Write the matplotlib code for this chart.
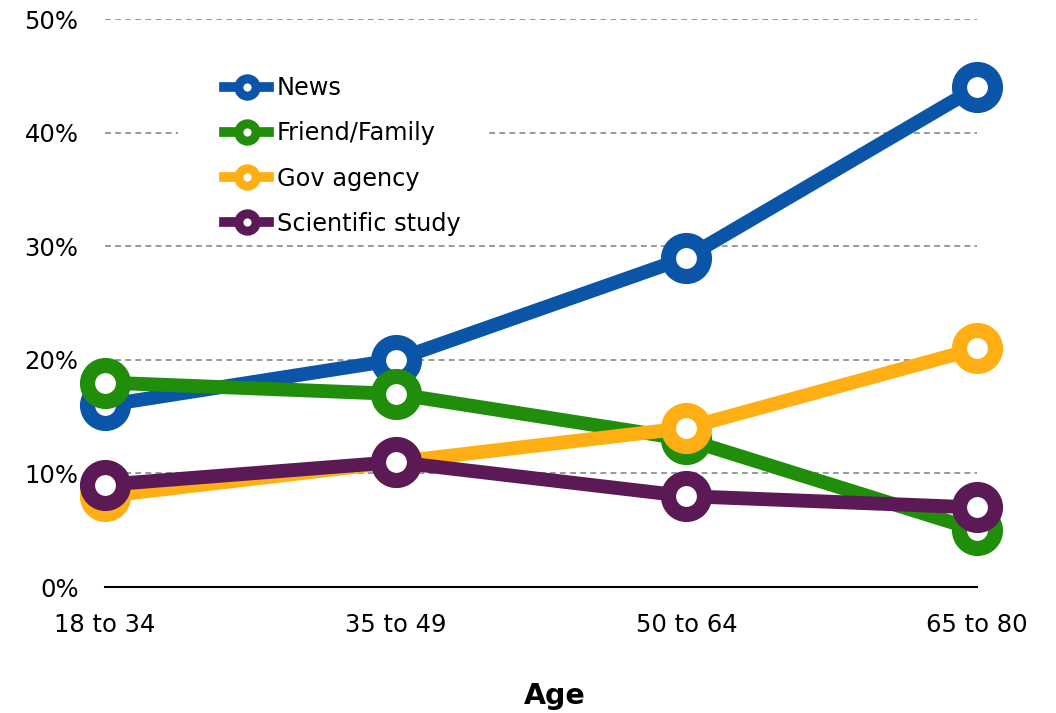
import matplotlib
matplotlib.use("Agg")
import matplotlib.pyplot as plt
from matplotlib.lines import Line2D
from matplotlib.patches import Rectangle
from matplotlib.ticker import PercentFormatter

# ---------- data ----------
ages = ["18 to 34", "35 to 49", "50 to 64", "65 to 80"]
news = [16, 20, 29, 44]
friend_family = [18, 17, 13, 5]
gov_agency = [8, 11, 14, 21]
scientific_study = [9, 11, 8, 7]

series_names = ["News", "Friend/Family", "Gov agency", "Scientific study"]
series_values = [news, friend_family, gov_agency, scientific_study]
series_colors = ["#0B55A8", "#208E0A", "#FFAF14", "#5B1A56"]

plt.rcParams['font.family'] = ['DejaVu Sans']

fig = plt.figure(figsize=(10.56, 7.13), dpi=100)
ax = fig.add_axes([0.0994, 0.1767, 0.8258, 0.7966])

x = list(range(len(ages)))
for name, vals, col in zip(series_names, series_values, series_colors):
    ax.plot(x, vals, color=col, lw=10, marker='o', markersize=25.9,
            markerfacecolor='white', markeredgecolor=col, markeredgewidth=10.9,
            clip_on=False, solid_capstyle='butt', zorder=3)

ax.set_xlim(0, 3)
ax.set_ylim(0, 50)
ax.set_xticks(x)
ax.set_xticklabels(ages)
ax.set_yticks([0, 10, 20, 30, 40, 50])
ax.yaxis.set_major_formatter(PercentFormatter(decimals=0))
ax.tick_params(axis='both', length=0, labelsize=17.5, colors='black')
ax.tick_params(axis='x', pad=19)
ax.tick_params(axis='y', pad=19)

for s in ['top', 'right', 'left']:
    ax.spines[s].set_visible(False)
ax.spines['bottom'].set_linewidth(1.5)
ax.spines['bottom'].set_color('black')
ax.spines['bottom'].set_zorder(2)

ax.grid(axis='y', color='#999999', linestyle=(0, (3, 2.2)), lw=1.4)
ax.set_axisbelow(True)

ax.set_xlabel('Age', fontsize=20.5, fontweight='bold')
ax.xaxis.set_label_coords(0.516, -0.167)

# white block behind the legend (hides the gridline there)
ax.add_patch(Rectangle((0.0837, 31), 0.354, 16, transform=ax.get_yaxis_transform(),
                       facecolor='white', edgecolor='none', zorder=1))

# ---------- legend ----------
handles = [Line2D([0], [0], color=c, lw=7, marker='o', markersize=12.5,
                  markerfacecolor='white', markeredgecolor=c, markeredgewidth=6.5)
           for c in series_colors]
leg = ax.legend(handles, series_names, loc='upper left',
                bbox_to_anchor=(0.128, 0.912), fontsize=17.3,
                frameon=False,
                handlelength=1.9, handletextpad=0.3, labelspacing=0.88,
                borderpad=0.3, borderaxespad=0)
leg.set_zorder(5)

plt.savefig('out.png', dpi=100)
